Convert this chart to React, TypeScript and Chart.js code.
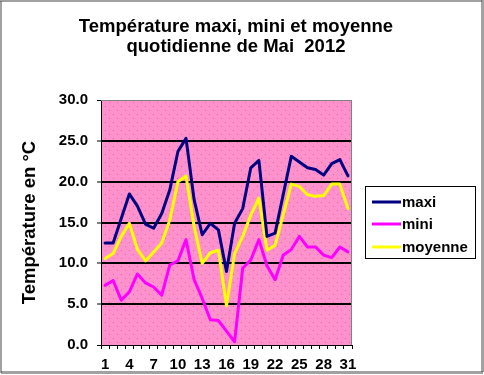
import { useEffect, useRef } from 'react';
import { Chart, registerables } from 'chart.js';

Chart.register(...registerables);

const days = ['1','2','3','4','5','6','7','8','9','10','11','12','13','14','15','16','17','18','19','20','21','22','23','24','25','26','27','28','29','30','31'];
const maxi = [12.5,12.5,15.5,18.5,17.0,14.8,14.3,16.1,19.0,23.7,25.3,17.8,13.5,14.9,14.1,9.0,14.9,16.7,21.7,22.6,13.3,13.7,18.4,23.1,22.4,21.7,21.5,20.8,22.2,22.7,20.7];
const mini = [7.3,7.9,5.5,6.5,8.7,7.6,7.1,6.1,9.8,10.3,12.9,8.0,5.7,3.1,3.0,1.7,0.4,9.4,10.4,12.9,9.7,8.0,11.0,11.7,13.3,12.0,12.0,11.0,10.7,12.0,11.4];
const moyenne = [10.6,11.2,13.3,14.9,11.7,10.3,11.4,12.5,15.3,20.0,20.7,14.5,10.0,11.3,11.6,4.8,11.2,13.3,15.9,18.0,11.6,12.2,15.9,19.7,19.4,18.4,18.2,18.3,19.7,19.7,16.7];
const titleLines = ['Température maxi, mini et moyenne', 'quotidienne de Mai  2012'];
const yTitle = 'Température en °C';

const FONT = 'Liberation Sans, Arial, Helvetica, sans-serif';

export default function App() {
  const ref = useRef<HTMLCanvasElement | null>(null);
  useEffect(() => {
    const canvas = ref.current!;
    const ctx0 = canvas.getContext('2d')!;
    const pc = document.createElement('canvas');
    pc.width = 8; pc.height = 8;
    const p = pc.getContext('2d')!;
    p.fillStyle = '#FF92CC'; p.fillRect(0, 0, 8, 8);
    p.fillStyle = '#E8649F'; p.fillRect(1, 2, 1, 1); p.fillRect(5, 6, 1, 1);
    const pattern = ctx0.createPattern(pc, 'repeat')!;

    const deco = {
      id: 'deco',
      beforeDraw(chart: any) {
        const { ctx, chartArea: a } = chart;
        ctx.save();
        ctx.fillStyle = '#fff';
        ctx.fillRect(0, 0, chart.width, chart.height);
        ctx.fillStyle = pattern;
        ctx.fillRect(a.left, a.top, a.right - a.left, a.bottom - a.top);
        ctx.restore();
      },
      beforeDatasetsDraw(chart: any) {
        const { ctx, chartArea: a } = chart;
        ctx.save();
        ctx.strokeStyle = '#808080';
        ctx.lineWidth = 1;
        ctx.beginPath();
        ctx.moveTo(a.left, a.top + 0.5);
        ctx.lineTo(a.right - 0.5, a.top + 0.5);
        ctx.lineTo(a.right - 0.5, a.bottom);
        ctx.stroke();
        ctx.restore();
      },
      afterDraw(chart: any) {
        const { ctx } = chart;
        ctx.save();
        // title
        ctx.fillStyle = '#000';
        ctx.font = `bold 18.5px ${FONT}`;
        ctx.textAlign = 'center';
        ctx.textBaseline = 'alphabetic';
        ctx.fillText(titleLines[0], 236, 31.5);
        ctx.fillText(titleLines[1], 236, 52);
        // legend
        ctx.strokeStyle = '#000';
        ctx.lineWidth = 1;
        ctx.strokeRect(365.5, 186.5, 110, 72);
        const ys = [202, 224, 247];
        chart.data.datasets.forEach((ds: any, i: number) => {
          ctx.strokeStyle = ds.borderColor;
          ctx.lineWidth = 3;
          ctx.beginPath();
          ctx.moveTo(372, ys[i]);
          ctx.lineTo(401, ys[i]);
          ctx.stroke();
          ctx.fillStyle = '#000';
          ctx.font = `bold 15px ${FONT}`;
          ctx.textAlign = 'left';
          ctx.textBaseline = 'middle';
          ctx.fillText(ds.label, 402, ys[i] + 1);
        });
        // outer dotted border
        ctx.strokeStyle = '#444';
        ctx.setLineDash([1, 1]);
        ctx.strokeRect(0.5, 0.5, 482, 372);
        ctx.restore();
      },
    };

    const tickFont = { family: FONT, size: 15, weight: 'bold' as const };
    const common = { borderWidth: 3, pointRadius: 0, tension: 0, borderJoinStyle: 'round' as const, borderCapStyle: 'round' as const };
    const chart = new Chart(canvas, {
      type: 'line',
      data: {
        labels: days,
        datasets: [
          { label: 'maxi', data: maxi, borderColor: '#000080', backgroundColor: '#000080', ...common },
          { label: 'mini', data: mini, borderColor: '#FF00FF', backgroundColor: '#FF00FF', ...common },
          { label: 'moyenne', data: moyenne, borderColor: '#FFFF00', backgroundColor: '#FFFF00', ...common },
        ],
      },
      options: {
        responsive: false,
        animation: false,
        devicePixelRatio: 1,
        events: [],
        layout: { padding: { top: 100, right: 132, left: 0, bottom: 0 } },
        plugins: { legend: { display: false }, title: { display: false }, tooltip: { enabled: false } },
        scales: {
          x: {
            type: 'category',
            offset: true,
            grid: { offset: true, drawOnChartArea: false, drawTicks: true, tickLength: 4, tickColor: '#000', tickWidth: 1, color: '#000' },
            border: { color: '#000', width: 1 },
            ticks: {
              autoSkip: false, maxRotation: 0, minRotation: 0, padding: 7, font: tickFont, color: '#000',
              callback: (_v: any, i: number) => (i % 3 === 0 ? days[i] : ''),
            },
            afterFit: (s: any) => { s.height = 30; },
          },
          y: {
            min: 0, max: 30,
            ticks: { stepSize: 5, padding: 9, font: tickFont, color: '#000', callback: (v: any) => Number(v).toFixed(1) },
            grid: {
              color: (c: any) => (c.tick && c.tick.value === 30 ? '#808080' : '#000'),
              lineWidth: (c: any) => (c.tick && (c.tick.value === 30 || c.tick.value === 0) ? 1 : 2),
              tickLength: 4, tickColor: '#000', tickWidth: 1,
            },
            border: { color: '#000', width: 1 },
            title: { display: true, text: yTitle, color: '#000', font: { family: FONT, size: 18.5, weight: 'bold' }, padding: { top: 19, bottom: 0 } },
            afterFit: (s: any) => { s.width = 101; },
          },
        },
      },
      plugins: [deco],
    });
    return () => chart.destroy();
  }, []);
  return (
    <canvas ref={ref} width={484} height={375} style={{ position: 'absolute', left: 0, top: 0, width: 484, height: 375, display: 'block' }} />
  );
}
